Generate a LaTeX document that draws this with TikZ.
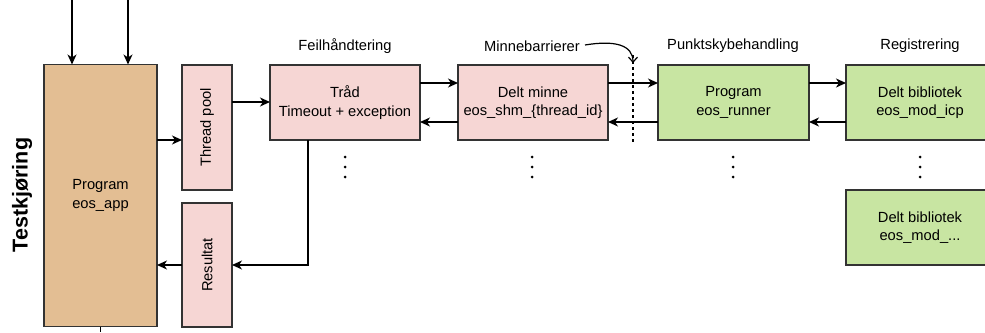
\documentclass[tikz,border=0pt]{standalone}
\usepackage{fontspec}
\setmainfont{Liberation Sans}
\usetikzlibrary{arrows.meta}
\definecolor{appfill}{HTML}{E3BE93}
\definecolor{redfill}{HTML}{F6D6D4}
\definecolor{greenfill}{HTML}{C8E5A2}
\definecolor{edge}{HTML}{333333}
\tikzset{
  x=1pt, y=-1pt,
  box/.style={draw=edge, line width=1.4pt, outer sep=0pt, inner sep=2pt,
    align=center, font=\fontsize{14.7}{18.5}\selectfont},
  appbox/.style={box, fill=appfill},
  redbox/.style={box, fill=redfill},
  greenbox/.style={box, fill=greenfill},
  heading/.style={font=\fontsize{14.7}{18}\selectfont, inner sep=0pt},
  arr/.style={draw=black, line width=1.4pt, -{Stealth[length=10pt,width=9pt,inset=3pt]}},
  plain/.style={draw=black, line width=1.4pt},
  dot/.style={circle, fill=black, inner sep=0pt, minimum size=3pt},
}
\begin{document}
\begin{tikzpicture}
\clip (0,0) rectangle (985,332);
\useasboundingbox (0,0) rectangle (985,332);

% side title
\node[rotate=90, font=\bfseries\fontsize{21.5}{24}\selectfont, inner sep=0pt] (title) at (22,195) {Testkjøring};

% main blocks
\node[appbox, minimum width=113pt, minimum height=262pt] (app) at (100.5,195.5) {Program\\eos\_app};
\node[redbox, minimum width=50pt, minimum height=125pt] (pool) at (207,127.5) {};
\node[rotate=90, font=\fontsize{14.7}{18}\selectfont, inner sep=0pt] (poollbl) at (pool.center) {Thread pool};
\node[redbox, minimum width=50pt, minimum height=124pt] (res) at (207,265) {};
\node[rotate=90, font=\fontsize{14.7}{18}\selectfont, inner sep=0pt] (reslbl) at (res.center) {Resultat};

\node[redbox, minimum width=150pt, minimum height=75pt] (trad) at (345,102.5) {Tråd\\Timeout + exception};
\node[redbox, minimum width=150pt, minimum height=75pt] (shm) at (533,102.5) {Delt minne\\eos\_shm\_\{thread\_id\}};
\node[greenbox, minimum width=151pt, minimum height=75pt] (runner) at (733.5,102.5) {Program\\eos\_runner};
\node[greenbox, minimum width=148pt, minimum height=75pt] (icp) at (920,102.5) {Delt bibliotek\\eos\_mod\_icp};
\node[greenbox, minimum width=148pt, minimum height=75pt] (mod) at (920,227.5) {Delt bibliotek\\eos\_mod\_...};

% column headings
\node[heading] (h1) at (345,46) {Feilhåndtering};
\node[heading] (h2) at (532,46) {Minnebarrierer};
\node[heading] (h3) at (733,46) {Punktskybehandling};
\node[heading] (h4) at (920,46) {Registrering};

% memory barrier marker
\coordinate (bartop) at (633,55);
\coordinate (barbot) at (633,142);
\draw[line width=1.1pt, dash pattern=on 3pt off 3pt] (bartop) -- (barbot);
\draw[line width=1.2pt, -{Straight Barb[length=5pt,width=9pt]}]
  (h2.east) ++(5,-1) .. controls (615,40) and (633,45) .. (633,63);

% inputs and output of the application
\coordinate (in1) at (72,0);
\coordinate (in2) at (128,0);
\coordinate (out) at (100,332);
\draw[arr] (in1) -- (in1 |- app.north);
\draw[arr] (in2) -- (in2 |- app.north);
\draw[plain] (app.south) -- (app.south |- out);

% flow through the threads
\draw[arr] (app.east |- 0,140) -- (pool.west |- 0,140);
\draw[arr] (pool.east |- 0,102) -- (trad.west |- 0,102);
\draw[arr] (trad.south -| 308,0) -- (308,265) -- (res.east |- 0,265);
\draw[arr] (res.west |- 0,265) -- (app.east |- 0,265);

\draw[arr] (trad.east |- 0,83) -- (shm.west |- 0,83);
\draw[arr] (shm.west |- 0,122) -- (trad.east |- 0,122);
\draw[arr] (shm.east |- 0,83) -- (runner.west |- 0,83);
\draw[arr] (runner.west |- 0,122) -- (shm.east |- 0,122);
\draw[arr] (runner.east |- 0,83) -- (icp.west |- 0,83);
\draw[arr] (icp.west |- 0,122) -- (runner.east |- 0,122);

% continuation marks
\foreach \name/\x in {a/345, b/532, c/733, d/920} {
  \node[dot] (\name1) at (\x,157) {};
  \node[dot] (\name2) at (\x,167) {};
  \node[dot] (\name3) at (\x,177) {};
}
\end{tikzpicture}
\end{document}
